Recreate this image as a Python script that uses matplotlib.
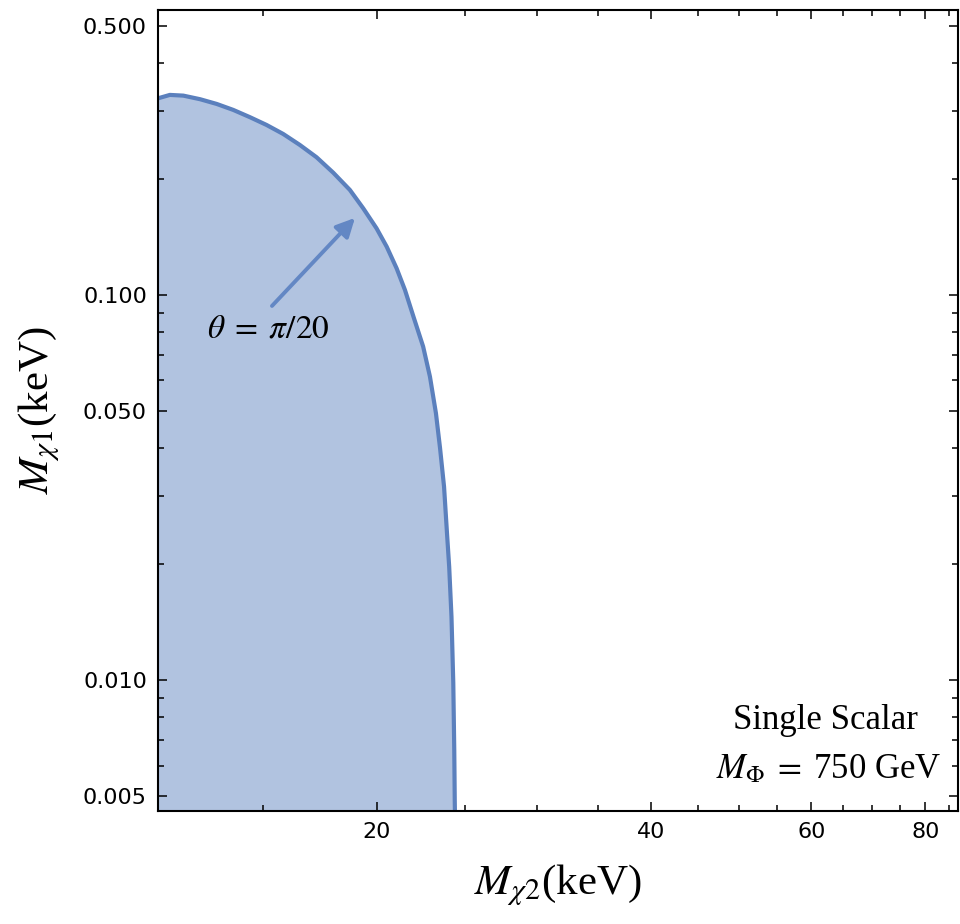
import matplotlib
matplotlib.use("Agg")
import matplotlib.pyplot as plt
from matplotlib.ticker import FixedLocator, FixedFormatter, NullFormatter

plt.rcParams['mathtext.fontset'] = 'stix'
plt.rcParams['font.family'] = ['DejaVu Sans']

# Boundary curve of the allowed region (M_chi2 in keV, M_chi1 in keV)
mchi2 = [11.51, 11.85, 12.26, 12.79, 13.34, 13.91, 14.51, 15.13, 15.78, 16.46,
         17.17, 17.91, 18.68, 19.32, 19.98, 20.50, 21.02, 21.47, 21.96, 22.48,
         22.87, 23.22, 23.46, 23.70, 23.89, 24.01, 24.15, 24.26, 24.32, 24.35, 24.36]
mchi1 = [0.3245, 0.3310, 0.3296, 0.3226, 0.3136, 0.3026, 0.2897, 0.2766, 0.2621, 0.2454,
         0.2280, 0.2079, 0.1875, 0.1680, 0.1491, 0.1336, 0.1174, 0.1031, 0.0872, 0.0735,
         0.0614, 0.0493, 0.0401, 0.0318, 0.0236, 0.0197, 0.0146, 0.00983, 0.00658, 0.00488,
         0.00455]

x_range = [11.50, 86.9]
y_range = [0.004571, 0.550]

x_major = [20, 40, 60, 80]
x_major_labels = ['20', '40', '60', '80']
x_minor = [15, 25, 30, 35, 45, 50, 55, 65, 70, 75, 85]
y_major = [0.005, 0.01, 0.05, 0.1, 0.5]
y_major_labels = ['0.005', '0.010', '0.050', '0.100', '0.500']
y_minor = [0.006, 0.007, 0.008, 0.009, 0.02, 0.03, 0.04,
           0.06, 0.07, 0.08, 0.09, 0.2, 0.3, 0.4]

arrow_start = (15.34, 0.0937)
arrow_end = (18.92, 0.1586)
label_pos = (15.19, 0.0821)
label_text = r'$\theta\;=\;\pi/20$'

line_color = '#5b80bd'
fill_color = '#b1c3e0'

fig = plt.figure(figsize=(9.6, 9.24), dpi=100)
ax = fig.add_axes([158/960, 1 - 811/924, 800/960, 801/924])
ax.set_xscale('log')
ax.set_yscale('log')
ax.set_xlim(*x_range)
ax.set_ylim(*y_range)

ax.fill_betweenx(mchi1, x_range[0], mchi2, color=fill_color, lw=0, zorder=1)
ax.plot(mchi2, mchi1, color=line_color, lw=3.0, solid_capstyle='round',
        solid_joinstyle='round', zorder=2)

ax.annotate('', xy=arrow_end, xytext=arrow_start,
            arrowprops=dict(arrowstyle='-|>', color='#6387c4', lw=2.8,
                            mutation_scale=28, shrinkA=0, shrinkB=0), zorder=3)
ax.text(*label_pos, label_text, fontsize=24, ha='center', va='center', zorder=3)

ax.text(0.834, 0.1136, 'Single Scalar', transform=ax.transAxes, fontsize=25,
        family='Liberation Serif', ha='center', va='center')
ax.text(0.838, 0.0512, r'$M_{\Phi}\;=\;$750 GeV', transform=ax.transAxes, fontsize=25,
        family='Liberation Serif', ha='center', va='center')

ax.xaxis.set_major_locator(FixedLocator(x_major))
ax.xaxis.set_major_formatter(FixedFormatter(x_major_labels))
ax.xaxis.set_minor_locator(FixedLocator(x_minor))
ax.xaxis.set_minor_formatter(NullFormatter())
ax.yaxis.set_major_locator(FixedLocator(y_major))
ax.yaxis.set_major_formatter(FixedFormatter(y_major_labels))
ax.yaxis.set_minor_locator(FixedLocator(y_minor))
ax.yaxis.set_minor_formatter(NullFormatter())

ax.tick_params(which='both', direction='in', top=True, right=True, width=1.1, color='black')
ax.tick_params(which='major', length=6.5, labelsize=16, pad=8)
ax.tick_params(which='minor', length=4)
for s in ax.spines.values():
    s.set_linewidth(1.5)

ax.set_xlabel(r'$M_{\chi 2}$(keV)', fontsize=31, family='Liberation Serif', labelpad=15)
ax.set_ylabel(r'$M_{\chi 1}$(keV)', fontsize=31, family='Liberation Serif', labelpad=15)

fig.savefig('out.png', dpi=100)
